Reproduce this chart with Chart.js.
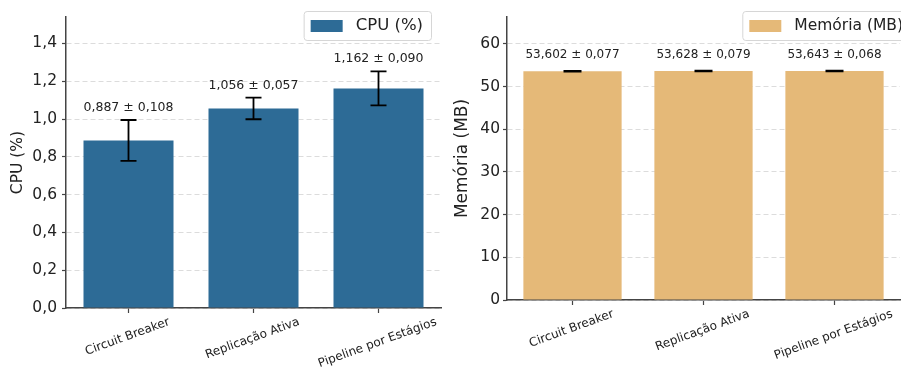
<!DOCTYPE html>
<html>
<head>
<meta charset="utf-8">
<script src="https://cdn.jsdelivr.net/npm/chart.js@4.4.1/dist/chart.umd.min.js"></script>
<style>
  html, body { margin: 0; padding: 0; background: #fff; overflow: hidden; }
  #wrap { position: relative; width: 901px; height: 370px; }
  #cpuBox { position: absolute; left: 0; top: 0; width: 450px; height: 370px; }
  #memBox { position: absolute; left: 450px; top: 0; width: 451px; height: 370px; }
</style>
</head>
<body>
<div id="wrap">
  <div id="cpuBox"><canvas id="cpuChart"></canvas></div>
  <div id="memBox"><canvas id="memChart"></canvas></div>
</div>
<script>
const categories = ['Circuit Breaker', 'Replicação Ativa', 'Pipeline por Estágios'];
const cpuMean = [0.887, 1.056, 1.162];
const cpuStd = [0.108, 0.057, 0.090];
const memMean = [53.602, 53.628, 53.643];
const memStd = [0.077, 0.079, 0.068];
const cpuTicks = [0, 0.2, 0.4, 0.6, 0.8, 1.0, 1.2, 1.4];
const memTicks = [0, 10, 20, 30, 40, 50, 60];

const FONT = "'DejaVu Sans', sans-serif";
const dec = (v, n) => v.toFixed(n).replace('.', ',');

// error bars, value labels, rotated category labels and the legend box
const extras = {
  id: 'extras',
  afterDatasetsDraw(chart, args, o) {
    const ctx = chart.ctx;
    const ys = chart.scales.y;
    const meta = chart.getDatasetMeta(0);
    const mean = chart.data.datasets[0].data;
    ctx.save();
    mean.forEach((m, i) => {
      const x = meta.data[i].x;
      const top = ys.getPixelForValue(m + o.std[i]);
      const bot = ys.getPixelForValue(m - o.std[i]);
      ctx.strokeStyle = '#000';
      ctx.lineWidth = 1.8;
      ctx.beginPath();
      ctx.moveTo(x, top); ctx.lineTo(x, bot);
      ctx.moveTo(x - o.cap, top); ctx.lineTo(x + o.cap, top);
      ctx.moveTo(x - o.cap, bot); ctx.lineTo(x + o.cap, bot);
      ctx.stroke();

      ctx.fillStyle = '#222';
      ctx.font = o.labelFont + 'px ' + FONT;
      ctx.textAlign = 'center';
      ctx.textBaseline = 'bottom';
      ctx.fillText(dec(m, 3) + ' ± ' + dec(o.std[i], 3), x, top - o.gap);
    });
    ctx.restore();
  },
  afterDraw(chart, args, o) {
    const ctx = chart.ctx;
    const area = chart.chartArea;
    const meta = chart.getDatasetMeta(0);
    ctx.save();
    // category labels, rotated 20deg, bbox centred under the tick
    ctx.font = '12px ' + FONT;
    ctx.fillStyle = '#222';
    const ang = 20 * Math.PI / 180;
    chart.data.labels.forEach((lab, i) => {
      const w = ctx.measureText(lab).width;
      const h = 14;
      const H = w * Math.sin(ang) + h * Math.cos(ang);
      const cx = meta.data[i].x - 1;
      const cy = area.bottom + 7 + H / 2;
      ctx.save();
      ctx.translate(cx, cy);
      ctx.rotate(-ang);
      ctx.textAlign = 'center';
      ctx.textBaseline = 'middle';
      ctx.fillText(lab, 0, 0);
      ctx.restore();
    });

    // legend
    ctx.font = o.legendFont + 'px ' + FONT;
    const tw = ctx.measureText(o.legendText).width;
    const bw = 7 + 32 + 13 + tw + 8;
    const bx = area.right + o.legendDx - bw;
    const by = area.top - 6;
    ctx.fillStyle = 'rgba(255,255,255,0.9)';
    ctx.strokeStyle = '#d6d6d6';
    ctx.lineWidth = 1;
    ctx.beginPath();
    ctx.roundRect(bx + 0.5, by + 0.5, bw, 29, 3);
    ctx.fill();
    ctx.stroke();
    ctx.fillStyle = o.color;
    ctx.fillRect(bx + 7, by + 9, 32, 12);
    ctx.fillStyle = '#222';
    ctx.textAlign = 'left';
    ctx.textBaseline = 'middle';
    ctx.fillText(o.legendText, bx + 52, by + 15);
    ctx.restore();
  }
};

function makeChart(id, cfg) {
  return new Chart(document.getElementById(id), {
    type: 'bar',
    data: {
      labels: categories,
      datasets: [{
        data: cfg.mean,
        backgroundColor: cfg.color,
        borderWidth: 0,
        barPercentage: cfg.barPct,
        categoryPercentage: 1
      }]
    },
    options: {
      responsive: true,
      maintainAspectRatio: false,
      animation: false,
      layout: { padding: { top: 17, right: cfg.padRight, left: 0, bottom: 0 } },
      scales: {
        x: {
          type: 'category',
          offset: true,
          afterFit: s => { s.height = cfg.xHeight; },
          ticks: { display: false },
          grid: { drawOnChartArea: false, drawTicks: true, tickLength: 5, tickColor: '#444', tickWidth: 1.2, offset: false },
          border: { color: '#444', width: 1.5 }
        },
        y: {
          min: 0,
          max: cfg.max,
          afterFit: s => { s.width = cfg.yWidth; },
          afterBuildTicks: s => { s.ticks = cfg.ticks.map(v => ({ value: v })); },
          ticks: {
            callback: cfg.fmt,
            color: '#222',
            padding: cfg.tickPad,
            font: { family: FONT, size: 15.5 }
          },
          grid: { color: '#dcdcdc', lineWidth: 1, tickLength: 4, tickColor: '#444', tickWidth: 1.2 },
          border: { color: '#444', width: 1.5, dash: [5, 3] },
          title: {
            display: true,
            text: cfg.title,
            color: '#222',
            font: { family: FONT, size: cfg.titleSize },
            padding: { top: cfg.titlePad, bottom: 0 }
          }
        }
      },
      plugins: {
        legend: { display: false },
        tooltip: { enabled: false },
        extras: {
          std: cfg.std,
          cap: cfg.cap,
          gap: cfg.gap,
          labelFont: cfg.labelFont,
          color: cfg.color,
          legendText: cfg.legendText,
          legendFont: cfg.legendFont,
          legendDx: cfg.legendDx
        }
      }
    },
    plugins: [extras]
  });
}

makeChart('cpuChart', {
  mean: cpuMean, std: cpuStd, ticks: cpuTicks, max: 1.54,
  fmt: v => dec(v, 1),
  color: '#2d6b96', barPct: 0.72,
  padRight: 9, yWidth: 66, xHeight: 62, tickPad: 5,
  title: 'CPU (%)', titleSize: 15.5, titlePad: 9,
  cap: 8, gap: 6, labelFont: 12.5,
  legendText: 'CPU (%)', legendFont: 16.5, legendDx: -10
});

makeChart('memChart', {
  mean: memMean, std: memStd, ticks: memTicks, max: 66.3,
  fmt: v => String(v),
  color: '#e5b978', barPct: 0.75,
  padRight: 1, yWidth: 57, xHeight: 70, tickPad: 3,
  title: 'Memória (MB)', titleSize: 17, titlePad: 2,
  cap: 9, gap: 10, labelFont: 12,
  legendText: 'Memória (MB)', legendFont: 15.5, legendDx: 11
});
</script>
</body>
</html>
